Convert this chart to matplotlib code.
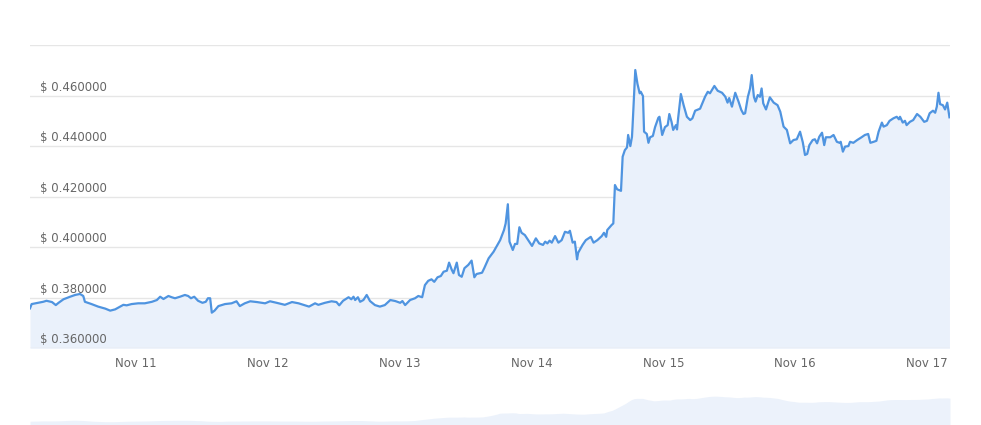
import matplotlib
matplotlib.use("Agg")
import matplotlib.pyplot as plt
import matplotlib.dates as mdates
import matplotlib.transforms as mtransforms
import numpy as np
import pandas as pd

# ---- data ----
start_time = "2024-11-10 04:42"
span_hours = 167.5
hours = [0, 0.3, 1.5, 2.4, 3.0, 4.0, 4.7, 5.2, 6.1, 7.3, 8.2, 9.1, 9.7, 10.0, 11.2, 12.4, 13.7, 14.6,
         15.5, 16.4, 17.0, 17.6, 18.5, 19.7, 20.9, 22.2, 23.1, 23.7, 24.3, 25.2, 25.8, 26.4, 27.3, 28.2,
         28.8, 29.3, 29.9, 30.6, 31.4, 32.0, 32.4, 32.8, 33.1, 33.6, 34.3, 35.5, 36.7, 37.6, 38.2, 39.1,
         40.1, 41.3, 42.8, 43.7, 44.9, 46.4, 47.7, 48.9, 49.8, 50.8, 51.9, 52.5, 53.7, 54.9, 55.8, 56.3,
         57.0, 58.0, 58.5, 58.9, 59.2, 59.7, 60.1, 60.7, 61.3, 61.9, 62.8, 63.7, 64.6, 65.6, 66.5, 67.4,
         67.8, 68.3, 69.2, 70.1, 70.7, 71.4, 71.9, 72.5, 73.1, 73.6, 74.2, 74.8, 75.3, 75.9, 76.3, 76.8,
         77.1, 77.7, 78.1, 78.6, 79.1, 79.8, 80.4, 80.9, 81.3, 82.3, 82.7, 83.5, 84.4, 85.0, 85.6, 86.3,
         86.6, 87.0, 87.3, 87.9, 88.3, 88.7, 89.1, 89.5, 90.1, 90.7, 91.4, 92.1, 92.7, 93.4, 93.8, 94.2,
         94.6, 95.0, 95.6, 96.2, 96.8, 97.4, 98.0, 98.3, 98.8, 99.2, 99.6, 99.8, 100.6, 101.2, 101.7,
         102.1, 102.6, 103.3, 104.1, 104.5, 104.9, 105.1, 105.9, 106.2, 106.5, 106.9, 107.6, 107.9,
         108.3, 108.7, 108.9, 109.3, 109.6, 109.7, 110.2, 110.6, 111.0, 111.2, 111.6, 111.8, 112.3,
         112.6, 112.9, 113.4, 113.8, 114.4, 114.6, 115.1, 115.6, 116.1, 116.4, 116.8, 117.1, 117.6,
         117.8, 118.0, 118.5, 119.0, 119.6, 120.2, 120.6, 121.1, 122.0, 122.4, 122.9, 123.4, 123.8,
         124.6, 125.2, 126.0, 126.6, 127.0, 127.3, 127.8, 128.4, 129.0, 129.5, 129.9, 130.2, 130.7,
         131.1, 131.4, 131.8, 132.1, 132.5, 132.9, 133.2, 133.5, 134.0, 134.7, 135.4, 136.1, 136.6,
         137.2, 137.8, 138.4, 139.0, 139.6, 140.2, 140.7, 141.1, 141.5, 141.9, 142.5, 142.9, 143.3,
         143.7, 144.2, 144.6, 144.9, 145.7, 146.3, 146.9, 147.4, 147.6, 148.0, 148.4, 149.0, 149.3,
         149.9, 150.6, 151.4, 152.0, 152.6, 153.0, 153.6, 154.1, 154.5, 155.1, 155.4, 156.0, 156.5,
         157.2, 157.8, 158.2, 158.4, 158.9, 159.3, 159.6, 160.2, 160.8, 161.5, 162.1, 162.8, 163.3,
         163.8, 164.4, 164.8, 165.1, 165.4, 165.7, 166.2, 166.6, 167.0, 167.4]
prices = [0.3758, 0.3775, 0.3780, 0.3784, 0.3788, 0.3783, 0.3771, 0.3780, 0.3794, 0.3804, 0.3811, 0.3815,
          0.3807, 0.3784, 0.3775, 0.3765, 0.3757, 0.3749, 0.3754, 0.3765, 0.3772, 0.3770, 0.3775, 0.3778,
          0.3778, 0.3784, 0.3791, 0.3804, 0.3795, 0.3807, 0.3802, 0.3798, 0.3804, 0.3811, 0.3807, 0.3798,
          0.3804, 0.3788, 0.3780, 0.3784, 0.3798, 0.3798, 0.3741, 0.3749, 0.3767, 0.3775, 0.3778, 0.3786,
          0.3767, 0.3778, 0.3786, 0.3783, 0.3778, 0.3786, 0.3780, 0.3772, 0.3783, 0.3778, 0.3772, 0.3765,
          0.3778, 0.3772, 0.3780, 0.3786, 0.3783, 0.3770, 0.3788, 0.3802, 0.3794, 0.3804, 0.3791, 0.3802,
          0.3784, 0.3791, 0.3811, 0.3787, 0.3771, 0.3765, 0.3771, 0.3791, 0.3787, 0.3780, 0.3787, 0.3771,
          0.3791, 0.3798, 0.3807, 0.3802, 0.3850, 0.3867, 0.3873, 0.3863, 0.3881, 0.3886, 0.3903, 0.3907,
          0.3939, 0.3910, 0.3897, 0.3939, 0.3890, 0.3883, 0.3917, 0.3930, 0.3947, 0.3881, 0.3894, 0.3899,
          0.3917, 0.3956, 0.3982, 0.4005, 0.4028, 0.4068, 0.4094, 0.4170, 0.4022, 0.3989, 0.4013, 0.4013,
          0.4079, 0.4057, 0.4048, 0.4028, 0.4005, 0.4035, 0.4015, 0.4009, 0.4022, 0.4015, 0.4026, 0.4018,
          0.4044, 0.4018, 0.4028, 0.4061, 0.4057, 0.4065, 0.4018, 0.4022, 0.3952, 0.3978, 0.4009, 0.4028,
          0.4035, 0.4041, 0.4018, 0.4028, 0.4044, 0.4057, 0.4041, 0.4068, 0.4088, 0.4094, 0.4246, 0.4229,
          0.4223, 0.4358, 0.4384, 0.4395, 0.4444, 0.4400, 0.4437, 0.4477, 0.4701, 0.4646, 0.4609, 0.4615,
          0.4598, 0.4457, 0.4448, 0.4413, 0.4435, 0.4440, 0.4475, 0.4512, 0.4516, 0.4444, 0.4475, 0.4483,
          0.4527, 0.4496, 0.4464, 0.4483, 0.4466, 0.4510, 0.4606, 0.4562, 0.4516, 0.4503, 0.4510, 0.4540,
          0.4548, 0.4569, 0.4595, 0.4615, 0.4609, 0.4638, 0.4619, 0.4611, 0.4595, 0.4572, 0.4590, 0.4556,
          0.4611, 0.4576, 0.4543, 0.4527, 0.4530, 0.4595, 0.4628, 0.4681, 0.4595, 0.4576, 0.4602, 0.4595,
          0.4628, 0.4569, 0.4545, 0.4593, 0.4572, 0.4562, 0.4536, 0.4477, 0.4464, 0.4411, 0.4424, 0.4427,
          0.4457, 0.4415, 0.4365, 0.4369, 0.4404, 0.4424, 0.4427, 0.4411, 0.4437, 0.4453, 0.4404, 0.4435,
          0.4435, 0.4444, 0.4417, 0.4413, 0.4417, 0.4378, 0.4398, 0.4400, 0.4417, 0.4413, 0.4424, 0.4435,
          0.4444, 0.4448, 0.4413, 0.4417, 0.4421, 0.4457, 0.4493, 0.4477, 0.4483, 0.4500, 0.4510, 0.4516,
          0.4506, 0.4516, 0.4493, 0.4500, 0.4483, 0.4496, 0.4503, 0.4527, 0.4516, 0.4496, 0.4500, 0.4530,
          0.4540, 0.4532, 0.4556, 0.4611, 0.4566, 0.4562, 0.4545, 0.4572, 0.4514]
y_ticks = [0.36, 0.38, 0.40, 0.42, 0.44, 0.46, 0.48]
y_labels = ["$ 0.360000", "$ 0.380000", "$ 0.400000", "$ 0.420000", "$ 0.440000", "$ 0.460000", ""]
x_tick_days = ["2024-11-11", "2024-11-12", "2024-11-13", "2024-11-14", "2024-11-15", "2024-11-16", "2024-11-17"]
x_tick_labels = ["Nov 11", "Nov 12", "Nov 13", "Nov 14", "Nov 15", "Nov 16", "Nov 17"]

# ---- build ----
t0 = pd.Timestamp(start_time)
times = t0 + pd.to_timedelta(hours, unit="h")
t_end = t0 + pd.Timedelta(hours=span_hours)

LINE = "#4f94e0"
FILL = "#eaf1fb"
GRID = "#e6e6e6"
TXT = "#666666"

W, H = 981, 425
fig = plt.figure(figsize=(W / 100, H / 100), dpi=100)
fig.patch.set_facecolor("white")

x0, x1 = 30, 950
ytop, ybot = 45, 348.3
ax = fig.add_axes([x0 / W, (H - ybot) / H, (x1 - x0) / W, (ybot - ytop) / H])
ax.set_facecolor("white")
ax.fill_between(times, prices, 0.36, color=FILL, lw=0, zorder=1)
for v in y_ticks:
    ax.axhline(v, color=GRID, lw=1.0, zorder=0.5 if v > 0.36 else 3)
ax.plot(times, prices, color=LINE, lw=1.6, zorder=4, solid_joinstyle="round")
ax.set_xlim(t0, t_end)
ax.set_ylim(0.36, 0.48)
for s in ax.spines.values():
    s.set_visible(False)
ax.set_yticks([])
ax.set_xticks(pd.to_datetime(x_tick_days))
ax.set_xticklabels(x_tick_labels, color=TXT, fontsize=8.5, fontfamily="DejaVu Sans")
ax.tick_params(axis="x", length=0, pad=6)

off = mtransforms.offset_copy(ax.get_yaxis_transform(), fig=fig, x=10, y=2, units="dots")
for v, lab in zip(y_ticks, y_labels):
    if lab:
        ax.text(0, v, lab, transform=off, ha="left", va="bottom", fontsize=8.5,
                color=TXT, fontfamily="DejaVu Sans", zorder=5)

# ---- navigator ----
nav_top, nav_bot = 393, 425
nav = fig.add_axes([x0 / W, (H - nav_bot) / H, (x1 - x0) / W, (nav_bot - nav_top) / H])
grid_h = np.arange(0, span_hours + 0.5, 0.5)
interp = np.interp(grid_h, hours, prices)
smooth = pd.Series(interp).rolling(7, center=True, min_periods=1).mean().to_numpy()
nav_times = t0 + pd.to_timedelta(grid_h, unit="h")
nav.fill_between(nav_times, smooth, 0.3, color="#ecf2fb", lw=0)
nav.set_xlim(t0, t_end)
nav.set_ylim(0.36453, 0.47228)
nav.axis("off")

fig.savefig("out.png", dpi=100, facecolor="white")
